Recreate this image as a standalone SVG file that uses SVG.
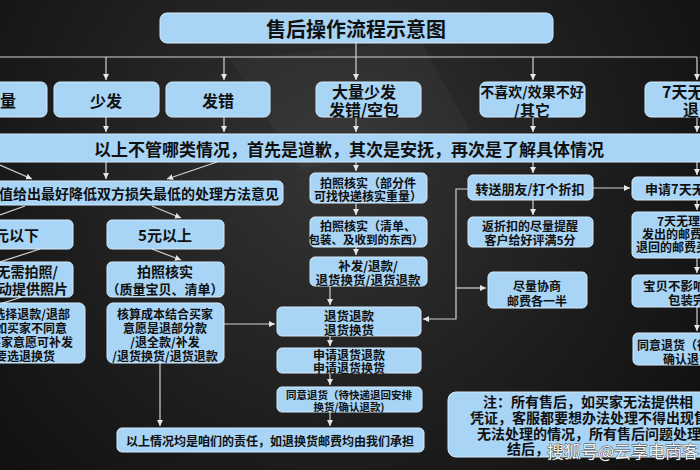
<svg xmlns="http://www.w3.org/2000/svg" width="700" height="470" viewBox="0 0 700 470">
<defs>
<radialGradient id="bg" cx="330" cy="170" r="520" gradientUnits="userSpaceOnUse">
<stop offset="0" stop-color="#343434"/>
<stop offset="0.55" stop-color="#1c1c1c"/>
<stop offset="1" stop-color="#0b0b0b"/>
</radialGradient>
<marker id="ar" viewBox="0 0 6 6" refX="6" refY="3" markerWidth="6" markerHeight="6" markerUnits="userSpaceOnUse" orient="auto">
<path d="M0,0 L6,3 L0,6 Z" fill="#e6e6e6"/>
</marker>
<style>
.b{fill:#a8d4f6;stroke:#d6ebfb;stroke-width:1}
.t{font-family:"Noto Sans CJK SC","Noto Sans",sans-serif;font-weight:bold;fill:#101010;dominant-baseline:central}
.c{text-anchor:middle}
.e{text-anchor:end}
.s{text-anchor:start}
.ln{fill:none;stroke:#d2d2d2;stroke-width:1.2}
.a{marker-end:url(#ar)}
</style>
</defs>
<rect x="0" y="0" width="700" height="470" fill="url(#bg)"/>
<polygon points="230,60 420,40 470,130 300,170" fill="#ffffff" opacity="0.03"/>

<g id="connectors">
<path class="ln a" d="M356,43 V80"/>
<path class="ln" d="M0,57 H697"/>
<path class="ln a" d="M106,57 V80"/>
<path class="ln a" d="M224,57 V80"/>
<path class="ln a" d="M533,57 V80"/>
<path class="ln a" d="M697,57 V80"/>
<path class="ln a" d="M106,117 V132"/>
<path class="ln a" d="M224,117 V132"/>
<path class="ln a" d="M356,117 V132"/>
<path class="ln a" d="M533,117 V132"/>
<path class="ln a" d="M697,117 V132"/>
<path class="ln a" d="M106,162 V179"/>
<path class="ln a" d="M217,162 L167,179"/>
<path class="ln a" d="M0,165 L32,179"/>
<path class="ln" d="M25,206 L0,215"/>
<path class="ln a" d="M152,206 L181,218"/>
<path class="ln" d="M40,249 L0,262"/>
<path class="ln a" d="M152,249 L181,260"/>
<path class="ln" d="M22,297 L0,304"/>
<path class="ln a" d="M224,324 H275"/>
<path class="ln a" d="M160,363 V426"/>
<path class="ln a" d="M356,162 V171"/>
<path class="ln a" d="M356,203 V215"/>
<path class="ln a" d="M356,247 V255"/>
<path class="ln a" d="M330,286 V305"/>
<path class="ln a" d="M330,336 V346"/>
<path class="ln a" d="M330,373 V385"/>
<path class="ln a" d="M330,412 V426"/>
<path class="ln a" d="M533,162 V173"/>
<path class="ln a" d="M533,200 V215"/>
<path class="ln a" d="M593,188 H630"/>
<path class="ln a" d="M468,189 H456 V319 H423"/>
<path class="ln a" d="M456,288 H486"/>
<path class="ln a" d="M697,162 V175"/>
<path class="ln a" d="M697,200 V210"/>
<path class="ln a" d="M697,258 V273"/>
<path class="ln a" d="M697,307 V331"/>
</g>

<g id="title"><rect class="b" x="160" y="13" width="393" height="30" rx="7"/><text class="t c" x="356" y="28" font-size="20">售后操作流程示意图</text></g>

<g id="n-liang"><rect class="b" x="-10" y="82" width="57" height="35" rx="6"/><text class="t s" x="0" y="99.5" font-size="16">量</text></g>
<g id="n-shaofa"><rect class="b" x="54" y="82" width="105" height="35" rx="6"/><text class="t c" x="106" y="99.5" font-size="16">少发</text></g>
<g id="n-facuo"><rect class="b" x="166" y="82" width="104" height="35" rx="6"/><text class="t c" x="218" y="99.5" font-size="16">发错</text></g>
<g id="n-daliang"><rect class="b" x="316" y="82" width="105" height="35" rx="6"/><text class="t c" font-size="16"><tspan x="364" y="91">大量少发</tspan><tspan x="364" y="109">发错/空包</tspan></text></g>
<g id="n-buxihuan"><rect class="b" x="480" y="82" width="105" height="35" rx="6"/><text class="t c" font-size="14"><tspan x="532" y="91">不喜欢/效果不好</tspan><tspan x="532" y="109" font-size="15">/其它</tspan></text></g>
<g id="n-7tian"><rect class="b" x="645" y="82" width="80" height="35" rx="6"/><text class="t s" font-size="16"><tspan x="662" y="91">7天无</tspan><tspan x="683" y="109">退</tspan></text></g>

<g id="banner"><rect class="b" x="-5" y="134" width="710" height="28" rx="4"/><text class="t c" x="349" y="148" font-size="17">以上不管哪类情况，首先是道歉，其次是安抚，再次是了解具体情况</text></g>

<g id="n-yijian"><rect class="b" x="-10" y="181" width="293" height="24" rx="5"/><text class="t e" x="279" y="193" font-size="14">值给出最好降低双方损失最低的处理方法意见</text></g>
<g id="n-5xia"><rect class="b" x="-10" y="220" width="83" height="29" rx="5"/><text class="t e" x="39" y="234.5" font-size="15">5元以下</text></g>
<g id="n-5shang"><rect class="b" x="107" y="220" width="117" height="29" rx="5"/><text class="t c" x="165" y="234.5" font-size="15">5元以上</text></g>
<g id="n-wuxu"><rect class="b" x="-10" y="262" width="83" height="35" rx="5"/><text class="t e" font-size="14"><tspan x="58" y="271">无需拍照/</tspan><tspan x="68" y="288">动提供照片</tspan></text></g>
<g id="n-paizhao"><rect class="b" x="107" y="262" width="117" height="35" rx="5"/><text class="t c" font-size="14"><tspan x="165" y="271">拍照核实</tspan><tspan x="165" y="288" font-size="13">（质量宝贝、清单）</tspan></text></g>
<g id="n-xuanze"><rect class="b" x="-10" y="303" width="95" height="60" rx="6"/><text class="t e" font-size="12"><tspan x="70" y="313">选择退款/退部</tspan><tspan x="67" y="327">如买家不同意</tspan><tspan x="73" y="341">买家意愿可补发</tspan><tspan x="55" y="355">要选退换货</tspan></text></g>
<g id="n-hesuan"><rect class="b" x="107" y="303" width="117" height="60" rx="6"/><text class="t c" font-size="12"><tspan x="165" y="313">核算成本结合买家</tspan><tspan x="165" y="327">意愿是退部分款</tspan><tspan x="165" y="341">/退全款/补发</tspan><tspan x="165" y="355">/退货换货/退货退款</tspan></text></g>
<g id="n-zeren"><rect class="b" x="117" y="428" width="307" height="24" rx="5"/><text class="t c" x="270" y="440" font-size="12">以上情况均是咱们的责任，如退换货邮费均由我们承担</text></g>

<g id="n-pz1"><rect class="b" x="310" y="173" width="117" height="30" rx="5"/><text class="t c" font-size="12"><tspan x="368" y="181.5">拍照核实（部分件</tspan><tspan x="368" y="195">可找快递核实重量）</tspan></text></g>
<g id="n-pz2"><rect class="b" x="310" y="217" width="117" height="30" rx="5"/><text class="t c" font-size="12"><tspan x="368" y="225">拍照核实（清单、</tspan><tspan x="366" y="239" font-size="11.5">包装、及收到的东西）</tspan></text></g>
<g id="n-bufa"><rect class="b" x="310" y="257" width="117" height="29" rx="5"/><text class="t c" font-size="12.5"><tspan x="368" y="265">补发/退款/</tspan><tspan x="368" y="279">退货换货/退货退款</tspan></text></g>
<g id="n-thtk"><rect class="b" x="277" y="307" width="144" height="29" rx="5"/><text class="t c" font-size="12.5"><tspan x="349" y="314.5">退货退款</tspan><tspan x="349" y="328.5">退货换货</tspan></text></g>
<g id="n-shenqing"><rect class="b" x="277" y="348" width="144" height="25" rx="5"/><text class="t c" font-size="12"><tspan x="349" y="354">申请退货退款</tspan><tspan x="349" y="367">申请退货换货</tspan></text></g>
<g id="n-tongyi"><rect class="b" x="277" y="387" width="145" height="25" rx="5"/><text class="t c" font-size="10.5"><tspan x="349" y="394">同意退货（待快递退回安排</tspan><tspan x="349" y="406">换货/确认退款)</tspan></text></g>

<g id="n-zhuansong"><rect class="b" x="468" y="175" width="125" height="25" rx="5"/><text class="t c" x="530" y="188" font-size="13">转送朋友/打个折扣</text></g>
<g id="n-fanzhe"><rect class="b" x="468" y="217" width="125" height="30" rx="5"/><text class="t c" font-size="12"><tspan x="530" y="225">返折扣的尽量提醒</tspan><tspan x="530" y="239">客户给好评满5分</tspan></text></g>
<g id="n-xieshang"><rect class="b" x="488" y="272" width="99" height="36" rx="5"/><text class="t c" font-size="12"><tspan x="537" y="285">尽量协商</tspan><tspan x="537" y="300">邮费各一半</tspan></text></g>

<g id="n-sq7"><rect class="b" x="632" y="177" width="90" height="23" rx="5"/><text class="t s" x="645" y="188.5" font-size="13">申请7天无</text></g>
<g id="n-7wl"><rect class="b" x="632" y="212" width="90" height="46" rx="5"/><text class="t s" font-size="12"><tspan x="657" y="220">7天无理</tspan><tspan x="642" y="233">发出的邮费</tspan><tspan x="636" y="246">退回的邮费买</tspan></text></g>
<g id="n-baobei"><rect class="b" x="632" y="275" width="90" height="32" rx="5"/><text class="t s" font-size="12.5"><tspan x="643" y="285">宝贝不影响</tspan><tspan x="668" y="299">包装完</tspan></text></g>
<g id="n-ty7"><rect class="b" x="633" y="333" width="90" height="32" rx="5"/><text class="t s" font-size="12"><tspan x="637" y="344">同意退货（待</tspan><tspan x="663" y="357.5">确认退货</tspan></text></g>

<g id="n-note"><rect class="b" x="448" y="392" width="270" height="65" rx="8"/><text class="t s" font-size="14"><tspan x="483" y="401">注：所有售后，如买家无法提供相</tspan><tspan x="470" y="417">凭证，客服都要想办法处理不得出现售</tspan><tspan x="477" y="433">无法处理的情况，所有售后问题处理</tspan><tspan x="507" y="448">结后，</tspan></text></g>

<text x="547" y="450" font-family="Noto Sans CJK SC, sans-serif" font-size="17" fill="#f4f4f4" stroke="#3a3a3a" stroke-width="0.8" paint-order="stroke" dominant-baseline="central">搜狐号@云享电商客</text>
</svg>
